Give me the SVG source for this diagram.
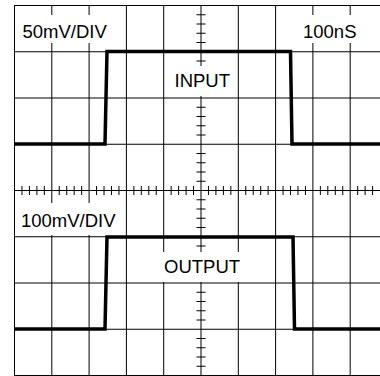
<svg xmlns="http://www.w3.org/2000/svg" width="380" height="376" viewBox="0 0 380 376">
<style>
.grid{stroke:#000;stroke-width:1;fill:none}
.tick{stroke:#000;stroke-width:1;fill:none}
.wave{stroke:#000;stroke-width:3.5;fill:none;stroke-linejoin:miter}
.bg{fill:#fff;stroke:none}
.lbl{font-family:"Liberation Sans",Arial,sans-serif;font-size:18.5px;fill:#000}
</style>
<rect x="0" y="0" width="380" height="376" fill="#fff"/>
<g id="grid">
<path class="grid" d="M14.5,5V376 M51.8,5V376 M89.1,5V376 M126.4,5V376 M163.7,5V376 M201,5V376 M238.3,5V376 M275.6,5V376 M312.9,5V376 M350.2,5V376"/>
<path class="grid" d="M14,5.5H380 M14,51.75H380 M14,98H380 M14,144.25H380 M14,190.5H380 M14,236.75H380 M14,283H380 M14,329.25H380 M14,375.5H380"/>
</g>
<g id="ticks">
<path class="tick" d="M196.5,14.75h9 M196.5,24h9 M196.5,33.25h9 M196.5,42.5h9 M196.5,61h9 M196.5,70.25h9 M196.5,79.5h9 M196.5,88.75h9 M196.5,107.25h9 M196.5,116.5h9 M196.5,125.75h9 M196.5,135h9 M196.5,153.5h9 M196.5,162.75h9 M196.5,172h9 M196.5,181.25h9 M196.5,199.75h9 M196.5,209h9 M196.5,218.25h9 M196.5,227.5h9 M196.5,246h9 M196.5,255.25h9 M196.5,264.5h9 M196.5,273.75h9 M196.5,292.25h9 M196.5,301.5h9 M196.5,310.75h9 M196.5,320h9 M196.5,338.5h9 M196.5,347.75h9 M196.5,357h9 M196.5,366.25h9"/>
<path class="tick" d="M21.96,186v9 M29.42,186v9 M36.88,186v9 M44.34,186v9 M59.26,186v9 M66.72,186v9 M74.18,186v9 M81.64,186v9 M96.56,186v9 M104.02,186v9 M111.48,186v9 M118.94,186v9 M133.86,186v9 M141.32,186v9 M148.78,186v9 M156.24,186v9 M171.16,186v9 M178.62,186v9 M186.08,186v9 M193.54,186v9 M208.46,186v9 M215.92,186v9 M223.38,186v9 M230.84,186v9 M245.76,186v9 M253.22,186v9 M260.68,186v9 M268.14,186v9 M283.06,186v9 M290.52,186v9 M297.98,186v9 M305.44,186v9 M320.36,186v9 M327.82,186v9 M335.28,186v9 M342.74,186v9 M357.66,186v9 M365.12,186v9 M372.58,186v9"/>
</g>
<g id="label-input-scale">
<rect class="bg" x="15.5" y="15" width="97" height="28"/>
<text class="lbl" x="22.5" y="38">50mV/DIV</text>
</g>
<g id="label-time">
<rect class="bg" x="298" y="15" width="64" height="28"/>
<text class="lbl" x="303" y="38">100nS</text>
</g>
<g id="label-input">
<rect class="bg" x="170" y="66" width="63" height="30"/>
<text class="lbl" x="174.5" y="86.5">INPUT</text>
</g>
<g id="label-output-scale">
<rect class="bg" x="15.5" y="203" width="106" height="32"/>
<text class="lbl" x="21" y="226.5">100mV/DIV</text>
</g>
<g id="label-output">
<rect class="bg" x="161" y="252" width="80" height="30"/>
<text class="lbl" x="164" y="272.5">OUTPUT</text>
</g>
<g id="connectors">
<path id="input-wave" class="wave" d="M14,144 H105 L107,51.5 H290.5 L292,144 H380"/>
<path id="output-wave" class="wave" d="M14,329 H105 L107,237 H293 L294.5,329 H380"/>
</g>
</svg>
